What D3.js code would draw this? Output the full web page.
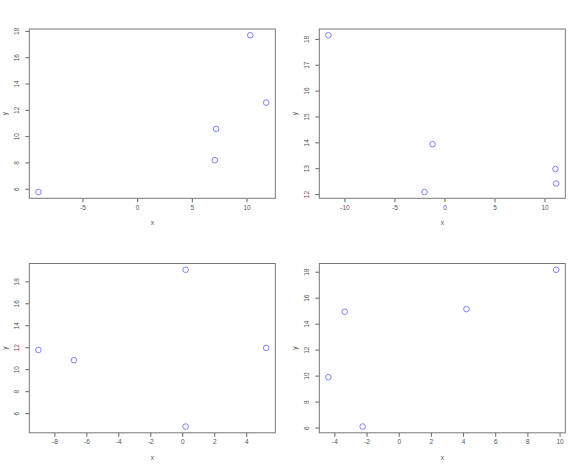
<!DOCTYPE html>
<html>
<head>
<meta charset="utf-8">
<script src="https://cdn.jsdelivr.net/npm/d3@7"></script>
<style>
  body { margin: 0; background: #fff; }
  svg { display: block; font-family: "Liberation Sans", Arial, sans-serif; }
  .tick text { fill: #555; font-size: 6.5px; }
  .lab { fill: #555; font-size: 6.5px; }
</style>
</head>
<body>
<div id="chart"></div>
<script>
// four scatter panels
var x1 = [-9.03, 7.10, 7.23, 10.34, 11.80]
var y1 = [5.75, 8.17, 10.55, 17.67, 12.55]
var x2 = [-11.60, -1.20, -2.00, 11.10, 11.17]
var y2 = [18.14, 13.93, 12.08, 12.97, 12.41]
var x3 = [-9.00, -6.78, 0.21, 0.21, 5.25]
var y3 = [11.75, 10.82, 19.05, 4.78, 11.94]
var x4 = [-4.37, -3.36, -2.24, 4.21, 9.79]
var y4 = [9.88, 14.92, 6.08, 15.12, 18.15]

var xTicks1 = [-5, 0, 5, 10]
var yTicks1 = [6, 8, 10, 12, 14, 16, 18]
var xTicks2 = [-10, -5, 0, 5, 10]
var yTicks2 = [12, 13, 14, 15, 16, 17, 18]
var xTicks3 = [-8, -6, -4, -2, 0, 2, 4]
var yTicks3 = [6, 8, 10, 12, 14, 16, 18]
var xTicks4 = [-4, -2, 0, 2, 4, 6, 8, 10]
var yTicks4 = [6, 8, 10, 12, 14, 16, 18]

var W = 580, H = 469
var figW = W / 2, figH = H / 2
var margin = { top: 29, right: 14.7, bottom: 36.2, left: 29.3 }
var w = figW - margin.left - margin.right
var h = figH - margin.top - margin.bottom

var svg = d3.select('#chart').append('svg')
    .attr('width', W)
    .attr('height', H)

var panels = [
  { xs: x1, ys: y1, xt: xTicks1, yt: yTicks1, col: 0, row: 0 },
  { xs: x2, ys: y2, xt: xTicks2, yt: yTicks2, col: 1, row: 0 },
  { xs: x3, ys: y3, xt: xTicks3, yt: yTicks3, col: 0, row: 1 },
  { xs: x4, ys: y4, xt: xTicks4, yt: yTicks4, col: 1, row: 1 }
]

// R style range: data extent padded by 4% each side
function padded(v) {
  var e = d3.extent(v), d = (e[1] - e[0]) * 0.04
  return [e[0] - d, e[1] + d]
}

panels.forEach(function (p) {
  var g = svg.append('g')
      .attr('transform', 'translate(' + (p.col * figW + margin.left) + ',' + (p.row * figH + margin.top) + ')')

  var xScale = d3.scaleLinear().domain(padded(p.xs)).range([0, w])
  var yScale = d3.scaleLinear().domain(padded(p.ys)).range([h, 0])

  var xAxis = d3.axisBottom(xScale).tickValues(p.xt).tickFormat(String).tickSize(4).tickPadding(3)
  var yAxis = d3.axisLeft(yScale).tickValues(p.yt).tickFormat(String).tickSize(4).tickPadding(3)

  var gx = g.append('g')
      .attr('transform', 'translate(0,' + h + ')')
      .call(xAxis)
  gx.select('.domain').remove()
  gx.selectAll('.tick line').attr('stroke', '#666')

  var gy = g.append('g').call(yAxis)
  gy.select('.domain').remove()
  gy.selectAll('.tick line').attr('stroke', '#666')
  gy.selectAll('.tick text')
      .attr('x', null).attr('dy', null)
      .attr('transform', 'translate(-10,0) rotate(-90)')
      .style('text-anchor', 'middle')

  // box
  g.append('rect')
      .attr('width', w)
      .attr('height', h)
      .attr('fill', 'none')
      .attr('stroke', '#777')
      .attr('stroke-width', 1)

  g.selectAll('circle')
      .data(p.xs.map(function (d, i) { return [d, p.ys[i]] }))
      .enter()
    .append('circle')
      .attr('cx', function (d) { return xScale(d[0]) })
      .attr('cy', function (d) { return yScale(d[1]) })
      .attr('r', 2.8)
      .attr('fill', 'none')
      .attr('stroke', '#7f7fff')
      .attr('stroke-width', 1)

  g.append('text')
      .attr('class', 'lab')
      .attr('x', w / 2)
      .attr('y', h + 27)
      .style('text-anchor', 'middle')
      .text('x')

  g.append('text')
      .attr('class', 'lab')
      .attr('transform', 'translate(-22,' + (h / 2) + ') rotate(-90)')
      .style('text-anchor', 'middle')
      .text('y')
})
</script>
</body>
</html>
